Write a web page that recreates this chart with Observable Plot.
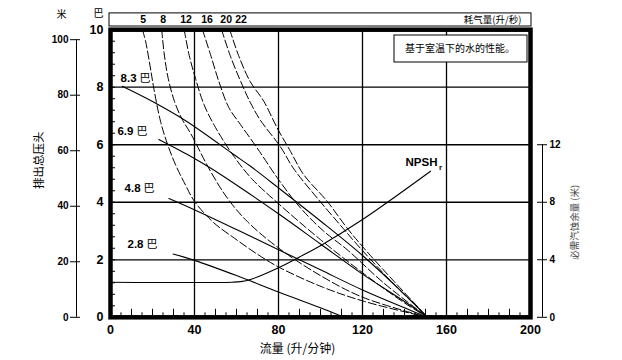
<!DOCTYPE html>
<html><head><meta charset="utf-8">
<script src="https://cdn.jsdelivr.net/npm/d3@7"></script>
<script src="https://cdn.jsdelivr.net/npm/@observablehq/plot@0.6"></script>
<style>
body{margin:0;background:#fff;}
#chart{width:622px;height:360px;}
</style></head><body><div id="chart"></div>
<script>
// ---------- data ----------
const pressureNames = ["8.3", "6.9", "4.8", "2.8"];
const p83 = [[5.6,8.03],[20,7.5],[36.5,6.8],[58.7,5.66],[66.7,5.25],[80,4.5],[100,3.35],[120,2.15],[140,0.8],[151,0]];
const p69 = [[23,6.18],[38.1,5.6],[47.6,5.19],[60,4.6],[80,3.6],[100,2.55],[120,1.5],[140,0.55],[151,0]];
const p48 = [[27.8,4.13],[38.1,3.8],[60,3.05],[80,2.35],[100,1.65],[120,0.95],[140,0.33],[151,0]];
const p28 = [[29.8,2.2],[40,1.98],[60,1.45],[80,0.88],[100,0.33],[109.5,0.05]];
const pressureLabelX = [4.8, 3.3, 6.7, 8.1];
const pressureLabelY = [8.3, 6.46, 4.48, 2.53];

const airNames = ["5", "8", "12", "16", "20", "22"];
const air5  = [[15.2,10],[16.7,9.6],[19,8.67],[20.6,7.97],[23.8,6.82],[27,6.05],[31,5.3],[35.7,4.6],[40,4.03],[49,3.3],[59,2.75],[69.8,2.2],[80,1.75],[101,1.05],[121,0.55],[151,0]];
const air8  = [[24.4,10],[25.5,9.2],[27.5,8.3],[30.5,7.5],[34,6.9],[38.1,6.4],[47.6,5.08],[55.6,4.15],[65,3.34],[80,2.41],[100,1.45],[120,0.7],[151,0]];
const air12 = [[35.1,10],[37.5,9.1],[40.5,8.3],[44.5,7.4],[50,6.6],[58.7,5.6],[67.5,4.8],[80,3.95],[100,2.7],[120,1.55],[140,0.5],[151,0]];
const air16 = [[43.8,10],[47.6,9.14],[51.6,8.2],[56.3,7.3],[61.9,6.7],[69.8,5.89],[80,4.79],[90.5,3.8],[101.6,2.99],[112.7,2.35],[130,1.2],[151,0]];
const air20 = [[52.9,10],[57,9.1],[62,8.2],[66.7,7.45],[71.4,6.85],[80.9,5.93],[87.3,5.16],[98.4,4.15],[109.5,3.2],[119,2.4],[135,1.15],[151,0]];
const air22 = [[56.8,10],[61,9.1],[66.5,8.2],[73,7.51],[79.4,6.58],[85.7,5.77],[92,4.96],[103.2,4.03],[112.7,3.1],[120.6,2.41],[135,1.25],[151,0]];
const airLabelX = [15.6, 25.1, 36.0, 46.0, 55.1, 62.2];

// NPSHr in metres (right axis)
const npsh = [[0,2.44],[58,2.44],[62,2.48],[67,2.65],[80,3.45],[90,4.2],[100,4.98],[120,6.8],[152.4,10.16]];

const xTicks = [0, 40, 80, 120, 160, 200];
const barTicks = [0, 2, 4, 6, 8, 10];
const meterTicks = [0, 20, 40, 60, 80, 100];
const npshTicks = [0, 4, 8, 12];
const gridX = [40, 80, 120, 160];
const gridY = [2, 4, 6, 8];

// scale relations between the axes
const METERS_PER_BAR = 10.36;   // left outer axis
const NPSH_M_PER_BAR = 2;       // right axis

// ---------- build tables ----------
const pressureSeries = [p83, p69, p48, p28];
const airSeries = [air5, air8, air12, air16, air20, air22];
const pressureRows = pressureSeries.flatMap((s, i) => s.map(([x, y]) => ({x, y, k: pressureNames[i]})));
const airRows = airSeries.flatMap((s, i) => s.map(([x, y]) => ({x, y, k: airNames[i]})));
const npshRows = npsh.map(([x, m]) => ({x, m}));
const pLabels = pressureNames.map((t, i) => ({t, x: pressureLabelX[i], y: pressureLabelY[i]}));
const aLabels = airNames.map((t, i) => ({t, x: airLabelX[i]}));

// ---------- layout ----------
const W = 622, H = 360, ML = 110, MR = 92, MT = 29.2, MB = 43.2;
const pxX = p => p * 200 / (W - ML - MR);
const pxY = p => p * 10 / (H - MT - MB);
const FONT = "'Liberation Sans','Noto Sans CJK SC',sans-serif";
const CJK = "'Noto Sans CJK SC',sans-serif";
const minorX = d3.range(5, 200, 5);
const minorY = d3.range(1, 25).map(i => i * 0.4);

const chart = Plot.plot({
  width: W, height: H,
  marginLeft: ML, marginRight: MR, marginTop: MT, marginBottom: MB,
  x: {domain: [0, 200], axis: null},
  y: {domain: [0, 10], axis: null},
  style: {fontFamily: FONT, background: "#fff", color: "#000"},
  marks: [
    // grid
    Plot.ruleX(gridX, {stroke: "#000", strokeWidth: 1.3}),
    Plot.ruleY(gridY, {stroke: "#000", strokeWidth: 1.3}),
    // minor ticks inside frame
    Plot.ruleX(minorX, {x: d => d, y1: 0, y2: d => d % 10 === 0 ? pxY(8) : pxY(4.5), stroke: "#000", strokeWidth: 1}),
    Plot.ruleY(minorY, {y: d => d, x1: 0, x2: pxX(5), stroke: "#000", strokeWidth: 1}),
    // air consumption curves
    Plot.line(airRows, {x: "x", y: "y", z: "k", curve: "catmull-rom", stroke: "#000", strokeWidth: 1, strokeDasharray: "8,3"}),
    // pressure curves
    Plot.line(pressureRows, {x: "x", y: "y", z: "k", curve: "catmull-rom", stroke: "#000", strokeWidth: 1.1}),
    // NPSHr
    Plot.line(npshRows, {x: "x", y: d => d.m / NPSH_M_PER_BAR, curve: "catmull-rom", stroke: "#000", strokeWidth: 1.1}),
    // frame
    Plot.frame({stroke: "#000", strokeWidth: 4.5}),
    // bar labels (inner left axis)
    Plot.text(barTicks, {x: 0, y: d => d, text: d => String(d), dx: -7, textAnchor: "end", fontSize: 12.5, fontWeight: "bold", fill: "#000"}),
    // metre axis (outer left)
    Plot.ruleX([0], {y1: 0, y2: 100 / METERS_PER_BAR, dx: -34, stroke: "#000", strokeWidth: 1}),
    Plot.ruleY(meterTicks, {y: d => d / METERS_PER_BAR, x1: -pxX(40), x2: -pxX(30), stroke: "#000", strokeWidth: 1}),
    Plot.text(meterTicks, {x: 0, y: d => d / METERS_PER_BAR, text: d => String(d), dx: -42, textAnchor: "end", fontSize: 10, fontWeight: "bold", fill: "#000"}),
    // x labels
    Plot.text(xTicks, {x: d => d, y: 0, text: d => String(d), dy: 13, fontSize: 12.5, fontWeight: "bold", fill: "#000"}),
    // NPSH axis (right)
    Plot.ruleX([200], {y1: 0, y2: 12 / NPSH_M_PER_BAR, dx: 12, stroke: "#000", strokeWidth: 1}),
    Plot.ruleY(npshTicks, {y: d => d / NPSH_M_PER_BAR, x1: 200 + pxX(7), x2: 200 + pxX(17), stroke: "#000", strokeWidth: 1}),
    Plot.text(npshTicks, {x: 200, y: d => d / NPSH_M_PER_BAR, text: d => String(d), dx: 19, textAnchor: "start", fontSize: 10, fontWeight: "bold", fill: "#000"}),
    // top air consumption strip
    Plot.rect([0], {x1: 0 - pxX(1), x2: 200 + pxX(1), y1: 10 + pxY(3.2), y2: 10 + pxY(16.3), fill: "none", stroke: "#000", strokeWidth: 1}),
    Plot.text(aLabels, {x: "x", y: 10 + pxY(9.6), text: "t", fontSize: 10.5, fontWeight: "bold", fill: "#000"}),
    Plot.text(["耗气量(升/秒)"], {x: 200, y: 10 + pxY(9.6), dx: -9, text: d => d, textAnchor: "end", fontSize: 9.5, fontFamily: CJK, fill: "#000"}),
    Plot.text(["米"], {x: 0, y: 10 + pxY(14.5), dx: -49, text: d => d, fontSize: 10, fontFamily: CJK, fill: "#000"}),
    Plot.text(["巴"], {x: 0, y: 10 + pxY(16), dx: -12, text: d => d, fontSize: 10, fontFamily: CJK, fill: "#000"}),
    // note box
    Plot.rect([0], {x1: 200 - pxX(136), x2: 200 - pxX(3), y1: 10 - pxY(5.8), y2: 10 - pxY(32.8), fill: "#fff", stroke: "#000", strokeWidth: 1}),
    Plot.text(["基于室温下的水的性能。"], {x: 200 - pxX(70.5), y: 10 - pxY(19.5), text: d => d, fontSize: 10, fontFamily: CJK, fill: "#000"}),
    // pressure labels
    Plot.text(pLabels, {x: "x", y: "y", text: "t", textAnchor: "start", fontSize: 11.5, fontWeight: "bold", fill: "#000", stroke: "#fff", strokeWidth: 3, paintOrder: "stroke"}),
    Plot.text(pLabels, {x: "x", y: "y", text: () => "巴", dx: 19, textAnchor: "start", fontSize: 11, fontFamily: CJK, fill: "#000"}),
    // NPSHr label
    Plot.text(["NPSH"], {x: 200, y: 0, dx: -93, dy: -154.5, text: d => d, textAnchor: "end", fontSize: 11.5, fontWeight: "bold", fill: "#000"}),
    Plot.text(["r"], {x: 200, y: 0, dx: -91.5, dy: -150, text: d => d, textAnchor: "start", fontSize: 8, fontWeight: "bold", fill: "#000"}),
    // axis titles
    Plot.text(["流量 (升/分钟)"], {x: 0, y: 0, dx: 187, dy: 31.5, text: d => d, fontSize: 12, fontFamily: CJK, fill: "#000"}),
    Plot.text(["排出总压头"], {x: 0, y: 0, dx: -71, dy: -157, text: d => d, rotate: -90, fontSize: 11.5, fontFamily: CJK, fill: "#000"}),
    Plot.text(["必需汽蚀余量 (米)"], {x: 200, y: 0, dx: 44, dy: -95, text: d => d, rotate: -90, fontSize: 9.5, fontFamily: CJK, fill: "#444"})
  ]
});
document.getElementById("chart").appendChild(chart);
</script></body></html>
